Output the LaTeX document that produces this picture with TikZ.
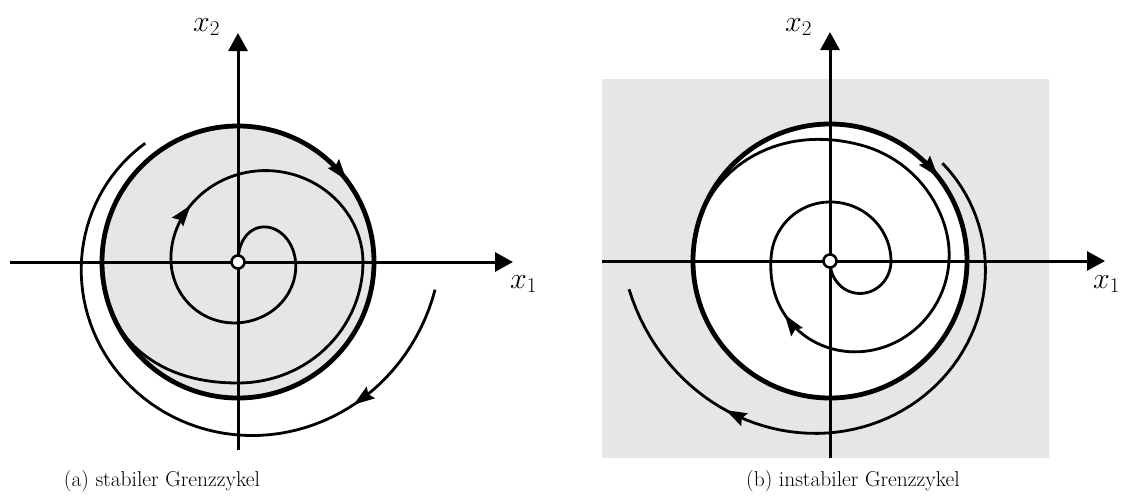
\RequirePackage{fix-cm}
\documentclass[tikz,border=0pt]{standalone}
\usetikzlibrary{arrows.meta}
\definecolor{bg}{RGB}{229,230,232}
\begin{document}
\begin{tikzpicture}[x=1pt,y=-1pt,
  declare function={
    cl(\u)=min(max(\u,0),1);
    hs(\u)=3*cl(\u)*cl(\u)-2*cl(\u)*cl(\u)*cl(\u);
    RLi(\s)=60*(1-exp(-min(\s,250)/28))+6*hs((\s-150)/120)
            +59*hs(cl((\s-200)/250)*cl((\s-200)/250))
            -4*hs((\s-450)/90)+15.5*hs((\s-540)/70);
    RLo(\s)=136+63*exp(-0.0065*\s);
    RRi(\s)=(137-17*hs(\s/90)-61*hs((\s-150)/200)+2*hs((\s-430)/100))
            *(1-cl((\s-525)/90)*cl((\s-525)/90));
    RRo(\s)=149+0.15*\s+22*(\s/213)*(\s/213)*(\s/213)*(\s/213);
  },
  axis/.style={line width=3pt,-{Triangle[length=18pt,width=19pt]}},
  traj/.style={line width=2.8pt},
  cyc/.style={line width=4.8pt},
  tiparrow/.style={line width=2.8pt,-{Stealth[length=21pt,width=14pt,inset=3pt]}},
  lab/.style={inner sep=0pt,anchor=base west,font=\fontsize{30}{34}\selectfont},
  captext/.style={font=\fontsize{21.5}{25}\selectfont},
  origin/.style={circle,draw,fill=white,line width=2.6pt,minimum size=13pt,inner sep=0pt}]
\useasboundingbox (0,0) rectangle (1133,499);

% ---------- left panel: stable limit cycle ----------
\begin{scope}[shift={(238,262)},yscale=-1]
  \fill[bg] (0,0) circle[radius=136pt];
\end{scope}
\draw[axis] (10,262) -- (513,262);
\draw[axis] (238,450) -- (238,33);
\begin{scope}[shift={(238,262)},yscale=-1]
  \draw[traj] plot[domain=0:630,samples=211] ({RLi(\x)*cos(90-\x)},{RLi(\x)*sin(90-\x)});
  \draw[traj] plot[domain=0:224,samples=76] ({RLo(\x)*cos(-8-\x)},{RLo(\x)*sin(-8-\x)});
  \draw[cyc] (0,0) circle[radius=136pt];
  \draw[tiparrow] (40:136) -- (37:136);
  \draw[tiparrow] ({RLi(316)*cos(90-316)},{RLi(316)*sin(90-316)}) -- ({RLi(320)*cos(90-320)},{RLi(320)*sin(90-320)});
  \draw[tiparrow] ({RLo(39)*cos(-8-39)},{RLo(39)*sin(-8-39)}) -- ({RLo(43)*cos(-8-43)},{RLo(43)*sin(-8-43)});
\end{scope}
\node[origin] (oa) at (238,262) {};
\node[lab] (x2a) at (193,31) {$x_2$};
\node[lab] (x1a) at (510,288) {$x_1$};
\node[captext] (ca) at (162,481) {(a) stabiler Grenzzykel};

% ---------- right panel: unstable limit cycle ----------
\fill[bg] (602,79) rectangle (1049,458);
\begin{scope}[shift={(830,261)},yscale=-1]
  \fill[white] (0,0) circle[radius=137pt];
\end{scope}
\draw[axis] (602,261) -- (1105,261);
\draw[axis] (830,458) -- (830,32);
\begin{scope}[shift={(830,261)},yscale=-1]
  \draw[traj] plot[domain=0:615,samples=206] ({RRi(\x)*cos(165-\x)},{RRi(\x)*sin(165-\x)});
  \draw[traj] plot[domain=0:213,samples=72] ({RRo(\x)*cos(41-\x)},{RRo(\x)*sin(41-\x)});
  \draw[cyc] (0,0) circle[radius=137pt];
  \draw[tiparrow] (41:137) -- (38:137);
  \draw[tiparrow] ({RRi(291)*cos(165-291)},{RRi(291)*sin(165-291)}) -- ({RRi(295)*cos(165-295)},{RRi(295)*sin(165-295)});
  \draw[tiparrow] ({RRo(162)*cos(41-162)},{RRo(162)*sin(41-162)}) -- ({RRo(166)*cos(41-166)},{RRo(166)*sin(41-166)});
\end{scope}
\node[origin] (ob) at (830,261) {};
\node[lab] (x2b) at (785,31) {$x_2$};
\node[lab] (x1b) at (1093,288) {$x_1$};
\node[captext] (cb) at (853,481) {(b) instabiler Grenzzykel};
\end{tikzpicture}
\end{document}
